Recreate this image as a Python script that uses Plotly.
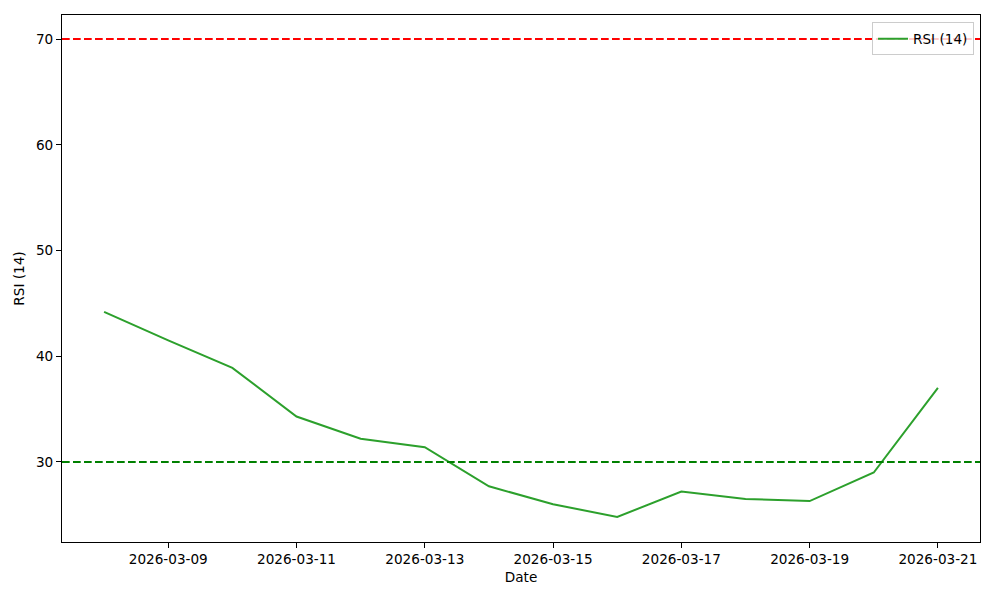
import plotly.graph_objects as go

dates = ["2026-03-08", "2026-03-09", "2026-03-10", "2026-03-11", "2026-03-12",
         "2026-03-13", "2026-03-14", "2026-03-15", "2026-03-16", "2026-03-17",
         "2026-03-18", "2026-03-19", "2026-03-20", "2026-03-21"]
rsi = [44.2, 41.5, 38.9, 34.3, 32.2, 31.4, 27.7, 26.0, 24.8, 27.2, 26.5, 26.3, 29.0, 37.0]
overbought = 70
oversold = 30
tick_dates = ["2026-03-09", "2026-03-11", "2026-03-13", "2026-03-15",
              "2026-03-17", "2026-03-19", "2026-03-21"]

fig = go.Figure()
fig.add_trace(go.Scatter(x=dates, y=rsi, mode="lines", name="RSI (14)",
                         line=dict(color="#2ca02c", width=2)))

fig.add_shape(type="line", xref="paper", x0=0, x1=1, yref="y", y0=overbought, y1=overbought,
              line=dict(color="red", width=2, dash="7.7px,3.3px"))
fig.add_shape(type="line", xref="paper", x0=0, x1=1, yref="y", y0=oversold, y1=oversold,
              line=dict(color="green", width=2, dash="7.7px,3.3px"))

fig.update_layout(
    width=1000, height=600,
    margin=dict(l=54, r=28, t=7, b=66),
    paper_bgcolor="white", plot_bgcolor="white",
    font=dict(family="DejaVu Sans", size=13.6, color="black"),
    showlegend=True,
    legend=dict(x=0.9935, y=0.986, xanchor="right", yanchor="top",
                bgcolor="rgba(255,255,255,0.8)", bordercolor="#cccccc", borderwidth=1,
                font=dict(size=13.6), itemwidth=30),
    xaxis=dict(
        type="date",
        range=["2026-03-07 08:15", "2026-03-21 15:45"],
        tickvals=tick_dates, ticktext=tick_dates,
        showgrid=False, zeroline=False,
        showline=True, linecolor="black", linewidth=1, mirror=True,
        ticks="outside", ticklen=5, tickcolor="black",
        title=dict(text="Date", font=dict(size=13.6), standoff=6),
    ),
    yaxis=dict(
        range=[22.43, 72.27],
        tickvals=[30, 40, 50, 60, 70],
        showgrid=False, zeroline=False,
        showline=True, linecolor="black", linewidth=1, mirror=True,
        ticks="outside", ticklen=5, tickcolor="black",
        title=dict(text="RSI (14)", font=dict(size=13.6), standoff=8),
    ),
)

fig.write_html("out.html")
